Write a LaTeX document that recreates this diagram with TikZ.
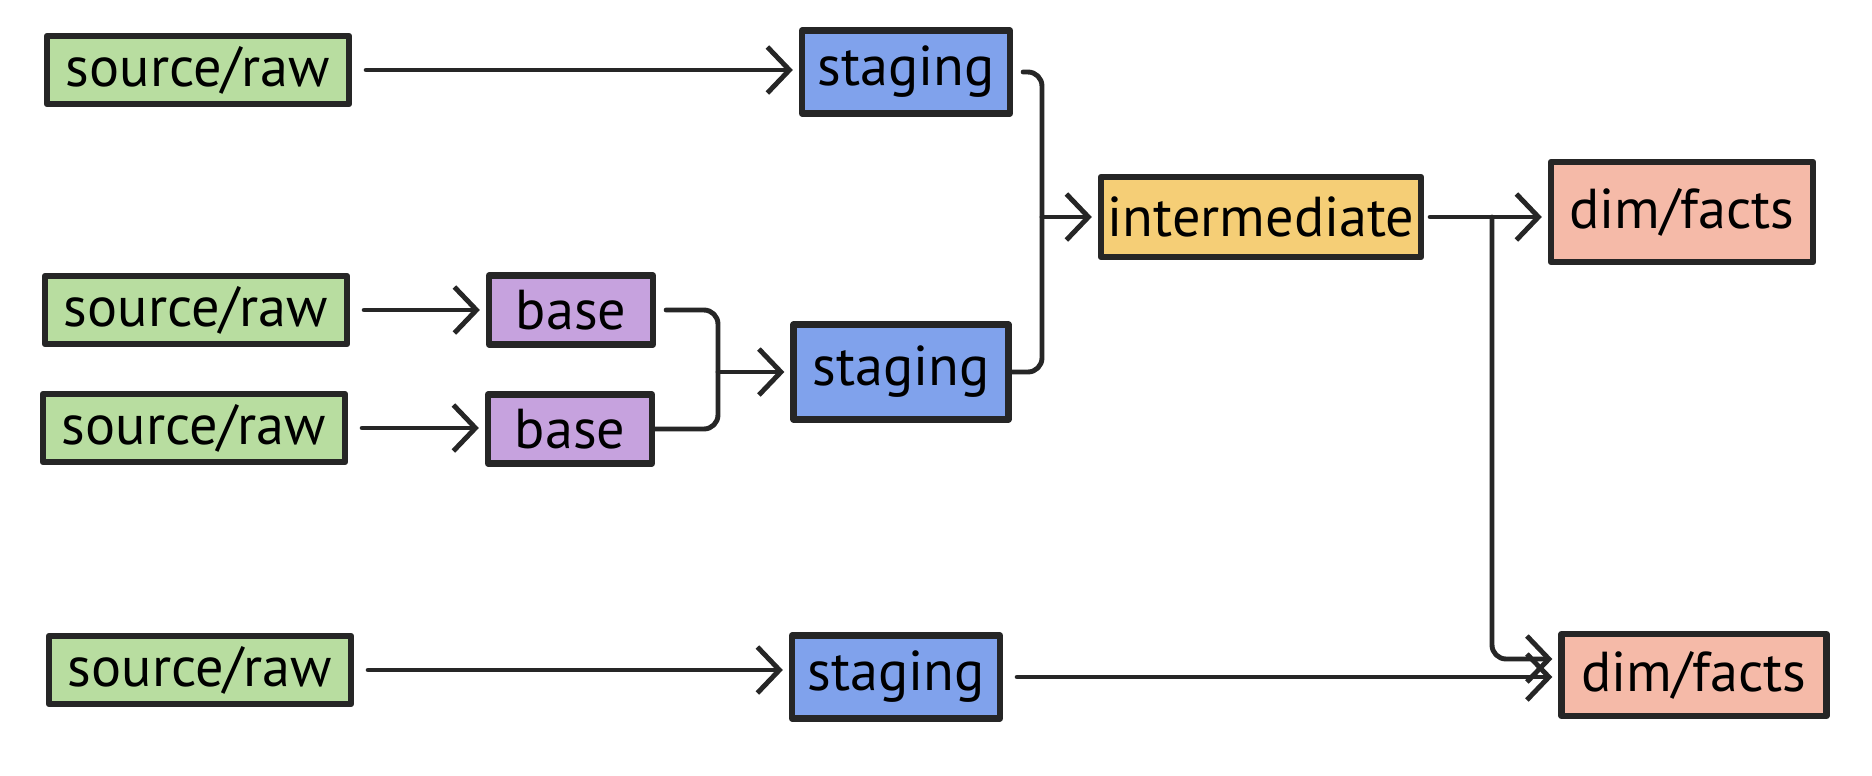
\documentclass[tikz,border=0pt]{standalone}
\usepackage{fontspec}
\setmainfont{PT Sans}
\usetikzlibrary{arrows.meta}

\definecolor{rawgreen}{RGB}{184,221,160}
\definecolor{stgblue}{RGB}{128,162,236}
\definecolor{basepurple}{RGB}{198,162,222}
\definecolor{intyellow}{RGB}{245,206,118}
\definecolor{martsalmon}{RGB}{245,186,168}

\tikzset{
  box/.style={draw=black!85,line width=1.8pt,inner sep=0pt,
    font=\fontsize{16}{19}\selectfont},
  rawbox/.style={box,fill=rawgreen,minimum width=3.02cm,minimum height=0.68cm},
  basebox/.style={box,fill=basepurple,minimum width=1.64cm,minimum height=0.69cm},
  stgbox/.style={box,fill=stgblue,minimum width=2.08cm,minimum height=0.83cm},
  intbox/.style={box,fill=intyellow,minimum width=3.2cm,minimum height=0.8cm},
  martbox/.style={box,fill=martsalmon,minimum width=2.62cm,minimum height=0.9cm},
  flow/.style={draw=black!85,line width=1.4pt,line cap=round,
    -{Straight Barb[length=2.2mm,width=4.6mm,line width=1.4pt]},
    shorten <=1.4mm,shorten >=0.6mm},
  link/.style={draw=black!85,line width=1.4pt,line cap=round,rounded corners=4pt}
}

\begin{document}
\begin{tikzpicture}[x=1cm,y=1cm,line join=round]
  \useasboundingbox (0,0) rectangle (18.72,-7.76);

  % ---- sorgenti ------------------------------------------------------------
  \node[rawbox] (r1) at (1.98,-0.70) {source/raw};
  \node[rawbox] (r2) at (1.96,-3.10) {source/raw};
  \node[rawbox] (r3) at (1.94,-4.28) {source/raw};
  \node[rawbox] (r4) at (2.00,-6.70) {source/raw};

  % ---- base e staging ------------------------------------------------------
  \node[basebox] (b1) at (5.71,-3.10) {base};
  \node[basebox] (b2) at (5.70,-4.29) {base};
  \node[stgbox] (s1) at (9.06,-0.72) {staging};
  \node[stgbox,minimum width=2.15cm,minimum height=0.95cm] (s2) at (9.01,-3.72) {staging};
  \node[stgbox] (s3) at (8.96,-6.77) {staging};

  % ---- intermediate e marts ------------------------------------------------
  \node[intbox] (im) at (12.61,-2.17) {intermediate};
  \node[martbox,minimum height=1.0cm] (d1) at (16.82,-2.12) {dim/facts};
  \node[martbox,minimum width=2.65cm,minimum height=0.82cm] (d2) at (16.94,-6.75) {dim/facts};

  % ---- punti di raccordo ---------------------------------------------------
  \coordinate (jb) at (7.18,-3.72);
  \coordinate (js) at (10.42,-2.17);
  \coordinate (jd) at (14.92,-2.17);

  % ---- collegamenti --------------------------------------------------------
  \draw[flow] (r1.east) -- (r1.east -| s1.west);
  \draw[flow] (r2.east) -- (b1.west);
  \draw[flow] (r3.east) -- (r3.east -| b2.west);
  \draw[flow] (r4.east) -- (r4.east -| s3.west);

  \draw[link,shorten <=1mm] (b1.east) -| (jb) |- (b2.east);
  \draw[flow,shorten <=0pt] (jb) -- (s2.west);

  \draw[link,shorten <=1mm] (s1.east) -| (js) |- (s2.east);
  \draw[flow,shorten <=0pt] (js) -- (im.west);

  \draw[flow,shorten <=0.6mm] (im.east) -- (im.east -| d1.west);
  \draw[flow,shorten <=0pt,rounded corners=4pt] (jd) |- ([yshift=1.6mm]d2.west);
  \draw[flow] (s3.east) -- (s3.east -| d2.west);

\end{tikzpicture}
\end{document}
